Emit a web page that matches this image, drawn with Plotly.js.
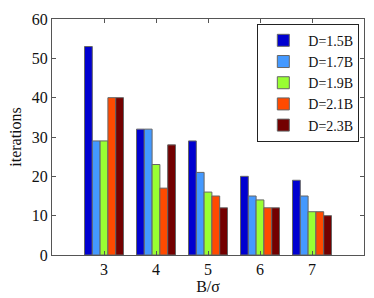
<!DOCTYPE html>
<html><head><meta charset="utf-8">
<script src="https://cdn.plot.ly/plotly-3.0.1.min.js"></script>
<style>body{margin:0;background:#fff}#c{width:374px;height:298px}</style>
</head><body><div id="c"></div>
<script>
const categories = [3, 4, 5, 6, 7];
const seriesNames = ["D=1.5B", "D=1.7B", "D=1.9B", "D=2.1B", "D=2.3B"];
const d15 = [53, 32, 29, 20, 19];
const d17 = [29, 32, 21, 15, 15];
const d19 = [29, 23, 16, 14, 11];
const d21 = [40, 17, 15, 12, 11];
const d23 = [40, 28, 12, 12, 10];
const yTicks = [0, 10, 20, 30, 40, 50, 60];
const colors = ["#0000d0", "#4499ff", "#99ff33", "#ff4a00", "#730000"];
const series = [d15, d17, d19, d21, d23];
const fam = "Liberation Serif";
const font = {family: fam, size: 16, color: "#111"};
const legFont = {family: fam, size: 14, color: "#111"};
const traces = series.map((v, i) => ({
  type: "bar", x: categories, y: v, name: seriesNames[i],
  marker: {color: colors[i], line: {color: "#666", width: 1}}
}));
const layout = {
  width: 374, height: 298,
  margin: {l: 52, r: 10, t: 19, b: 43},
  barmode: "group", bargap: 0.25, bargroupgap: 0,
  font: font,
  paper_bgcolor: "#fff", plot_bgcolor: "#fff",
  xaxis: {range: [2, 8], tickvals: categories, ticks: "inside", ticklen: 4, tickcolor: "#555",
    showline: true, linecolor: "#555", mirror: "ticks", showgrid: false, zeroline: false,
    title: {text: "B/σ", font: font, standoff: 2}, tickfont: font},
  yaxis: {range: [0, 60], tickvals: yTicks, ticks: "inside", ticklen: 4, tickcolor: "#555",
    showline: true, linecolor: "#555", mirror: "ticks", showgrid: false, zeroline: false,
    title: {text: "iterations", font: font, standoff: 6}, tickfont: font},
  legend: {x: 0.985, y: 0.98, xanchor: "right", yanchor: "top", bgcolor: "#fff",
    bordercolor: "#222", borderwidth: 1, font: legFont, tracegroupgap: 0, itemwidth: 40,
    valign: "middle"},
  showlegend: true
};
Plotly.newPlot("c", traces, layout, {staticPlot: true, displayModeBar: false});
</script></body></html>
